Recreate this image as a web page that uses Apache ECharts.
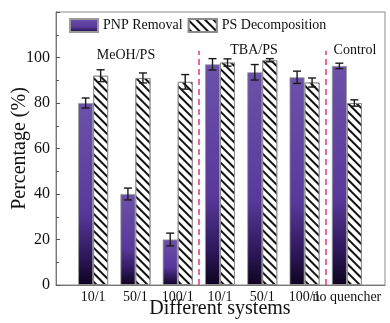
<!DOCTYPE html>
<html>
<head>
<meta charset="utf-8">
<script src="https://cdn.jsdelivr.net/npm/echarts@6/dist/echarts.min.js"></script>
<style>
  html, body { margin: 0; padding: 0; background: #fff; }
  #chart { width: 390px; height: 323px; }
</style>
</head>
<body>
<div id="chart"></div>
<script>
const categories = ['10/1', '50/1', '100/1', '10/1', '50/1', '100/1', 'no quencher'];
const pnpRemoval = [80, 40, 20, 97, 93.5, 91.3, 96.3];
const pnpErr = [2.2, 2.6, 2.8, 2.5, 3.4, 2.7, 1.2];
const psDecomp = [92, 91, 89.3, 97.8, 98.8, 89, 80];
const psErr = [2.6, 2.2, 3.2, 1.6, 0.7, 2, 1.4];
const yTicks = [0, 20, 40, 60, 80, 100];
const groupLabels = [
    {name: 'MeOH/PS', x: 126, y: 48}
    , {name: 'TBA/PS', x: 254, y: 43}
    , {name: 'Control', x: 355, y: 43}
];
const dividers = [2.5, 5.5];

const font = '"Liberation Serif", "DejaVu Serif", serif';
const frame = {left: 56, right: 385, top: 12, bottom: 285};
const cat = {left: 72, right: 368};
const band = (cat.right - cat.left) / categories.length;
const frameMin = -0.5 - (cat.left - frame.left) / band;
const frameMax = categories.length - 0.5 + (frame.right - cat.right) / band;
const barW = 15;

const purple = new echarts.graphic.LinearGradient(0, 0, 0, 1, [
    {offset: 0, color: '#6c52a9'}
    , {offset: 0.6, color: '#58399b'}
    , {offset: 0.85, color: '#2c1758'}
    , {offset: 1, color: '#0d0420'}
]);
const hatch = {
    symbol: 'rect'
    , color: '#111'
    , backgroundColor: '#fff'
    , dashArrayX: [1, 0]
    , dashArrayY: [1.4, 3.8]
    , rotation: Math.PI / 4
};

function errorSeries(values, errs, shift) {
    return {
        type: 'custom'
        , xAxisIndex: 1
        , yAxisIndex: 1
        , z: 10
        , silent: true
        , data: values.map(function (v, i) { return [i, v - errs[i], v + errs[i]]; })
        , renderItem: function (params, api) {
            const lo = api.coord([api.value(0), api.value(1)]);
            const hi = api.coord([api.value(0), api.value(2)]);
            const x = lo[0] + shift;
            const style = {stroke: '#1a1a1a', lineWidth: 1.4};
            return {
                type: 'group'
                , children: [
                    {type: 'line', shape: {x1: x, y1: lo[1], x2: x, y2: hi[1]}, style: style}
                    , {type: 'line', shape: {x1: x - 4, y1: lo[1], x2: x + 4, y2: lo[1]}, style: style}
                    , {type: 'line', shape: {x1: x - 4, y1: hi[1], x2: x + 4, y2: hi[1]}, style: style}
                ]
            };
        }
    };
}

const chart = echarts.init(document.getElementById('chart'));
chart.setOption({
    animation: false
    , textStyle: {fontFamily: font}
    , legend: {
        left: 64
        , top: 13
        , icon: 'rect'
        , itemWidth: 28
        , itemHeight: 13
        , itemGap: 5
        , textStyle: {fontFamily: font, fontSize: 14, color: '#111'}
        , data: ['PNP Removal', 'PS Decomposition']
    }
    , grid: [
        {
            left: frame.left, top: frame.top, width: frame.right - frame.left
            , height: frame.bottom - frame.top, outerBoundsMode: 'none', containLabel: false
            , show: true, borderColor: '#8a8a8a', borderWidth: 1
        }
        , {
            left: cat.left, top: frame.top, width: cat.right - cat.left
            , height: frame.bottom - frame.top, outerBoundsMode: 'none', containLabel: false
        }
    ]
    , xAxis: [
        {
            gridIndex: 0, type: 'value', min: frameMin, max: frameMax
            , axisLine: {show: true, onZero: false, lineStyle: {color: '#777'}}
            , axisTick: {show: false}, axisLabel: {show: false}, splitLine: {show: false}
        }
        , {
            gridIndex: 1, type: 'category', data: categories
            , axisLine: {show: false}, axisTick: {show: false}
            , axisLabel: {interval: 0, fontFamily: font, fontSize: 14, color: '#111', margin: 5}
            , name: 'Different systems', nameLocation: 'middle', nameGap: 14, nameMoveOverlap: false
            , nameTextStyle: {fontFamily: font, fontSize: 20, color: '#111'}
        }
    ]
    , yAxis: [
        {
            gridIndex: 0, type: 'value', min: 0, max: 120, interval: 20
            , axisLine: {show: true, onZero: false, lineStyle: {color: '#777'}}
            , axisTick: {show: true, inside: true, length: 4, lineStyle: {color: '#555'}}
            , minorTick: {show: true, splitNumber: 2, length: 3, lineStyle: {color: '#555'}}
            , splitLine: {show: false}
            , axisLabel: {
                fontFamily: font, fontSize: 16, color: '#111', margin: 6
                , formatter: function (v) { return yTicks.indexOf(v) >= 0 ? String(v) : ''; }
            }
            , name: 'Percentage (%)', nameLocation: 'middle', nameGap: 26, nameMoveOverlap: false
            , nameTextStyle: {fontFamily: font, fontSize: 20, color: '#111'}
        }
        , {
            gridIndex: 1, type: 'value', min: 0, max: 120, show: false
        }
    ]
    , series: [
        {
            name: 'PNP Removal', type: 'bar', xAxisIndex: 1, yAxisIndex: 1
            , barWidth: barW, barGap: '0%', data: pnpRemoval
            , itemStyle: {color: purple, borderColor: '#9a9a9a', borderWidth: 0.8}
        }
        , {
            name: 'PS Decomposition', type: 'bar', xAxisIndex: 1, yAxisIndex: 1
            , barWidth: barW, barGap: '0%', data: psDecomp
            , itemStyle: {color: '#fff', decal: hatch, borderColor: '#8a8a8a', borderWidth: 1}
        }
        , errorSeries(pnpRemoval, pnpErr, -barW / 2)
        , errorSeries(psDecomp, psErr, barW / 2)
        , {
            type: 'line', xAxisIndex: 0, yAxisIndex: 0, data: [], silent: true
            , markLine: {
                symbol: 'none', silent: true, label: {show: false}
                , lineStyle: {color: '#e8457b', width: 1.6, type: [6, 4]}
                , data: dividers.map(function (d) { return [{coord: [d, 0]}, {coord: [d, 103]}]; })
            }
        }
    ]
    , graphic: groupLabels.map(function (g) {
        return {
            type: 'text', x: g.x, y: g.y
            , style: {text: g.name, fontFamily: font, fontSize: 14, fill: '#111', align: 'center'}
        };
    })
});
</script>
</body>
</html>
